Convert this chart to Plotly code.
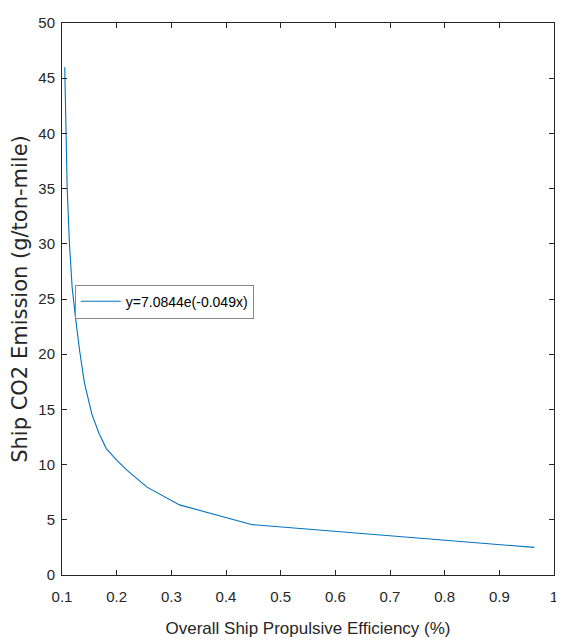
import plotly.graph_objects as go

efficiency = [0.105, 0.1076, 0.1095, 0.1136, 0.1185, 0.1245, 0.132, 0.141, 0.155, 0.168, 0.181, 0.20, 0.2197, 0.2555, 0.315, 0.448, 0.964]
emission = [46.0, 40.0, 35.0, 30.0, 26.1, 23.4, 20.4, 17.4, 14.5, 12.8, 11.45, 10.4, 9.45, 7.96, 6.35, 4.56, 2.5]
legend_label = "y=7.0844e(-0.049x)"
x_ticks = [0.1, 0.2, 0.3, 0.4, 0.5, 0.6, 0.7, 0.8, 0.9, 1.0]
x_tick_text = ["0.1", "0.2", "0.3", "0.4", "0.5", "0.6", "0.7", "0.8", "0.9", "1"]
y_ticks = list(range(0, 51, 5))

FONT = "Liberation Sans, Arial, sans-serif"
AX = "#262626"

fig = go.Figure()
fig.add_trace(go.Scatter(x=efficiency, y=emission, mode="lines", name=legend_label,
                         line=dict(color="#0072BD", width=1.1), showlegend=True))

axis_common = dict(showline=True, linecolor=AX, linewidth=1, mirror="ticks",
                   ticks="inside", ticklen=5, tickcolor=AX, tickwidth=1,
                   showgrid=False, zeroline=False, ticklabeloverflow="allow",
                   tickfont=dict(family=FONT, size=15, color=AX))

fig.update_xaxes(range=[0.1, 1.0], tickvals=x_ticks, ticktext=x_tick_text,
                 ticklabelstandoff=8,
                 title=dict(text="Overall Ship Propulsive Efficiency (%)",
                            font=dict(family=FONT, size=17, color=AX), standoff=18),
                 **axis_common)
fig.update_yaxes(range=[0, 50], tickvals=y_ticks, ticklabelstandoff=3,
                 title=dict(text="Ship CO2 Emission (g/ton-mile)",
                            font=dict(family="DejaVu Sans, Verdana, sans-serif", size=21, color=AX), standoff=8),
                 **axis_common)

fig.update_layout(
    width=556, height=636,
    margin=dict(l=54, r=6, t=8, b=69),
    paper_bgcolor="white", plot_bgcolor="white",
    legend=dict(x=0.026, y=0.526, xanchor="left", yanchor="top",
                bordercolor="#888888", borderwidth=1, bgcolor="white",
                font=dict(family=FONT, size=14, color="#000000"),
                itemwidth=40),
)

fig.write_html("out.html")
